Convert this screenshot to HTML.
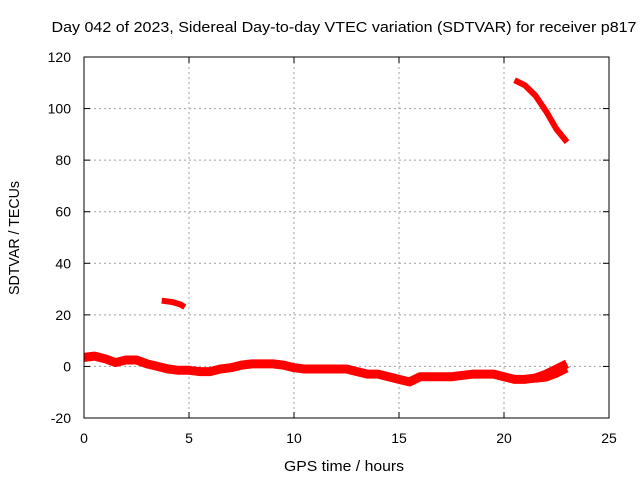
<!DOCTYPE html>
<html><head><meta charset="utf-8"><style>
body{margin:0;background:#fff}
svg{display:block;font-family:"Liberation Sans",sans-serif}
</style></head><body>
<svg id="chart" width="640" height="480">
<rect width="640" height="480" fill="#fff"/>
<text x="344" y="32" font-size="15" textLength="585" lengthAdjust="spacingAndGlyphs" text-anchor="middle">Day 042 of 2023, Sidereal Day-to-day VTEC variation (SDTVAR) for receiver p817</text>
<g id="grid"></g><g id="series"></g><g id="axes"></g>
<text x="344" y="471" font-size="15" textLength="120" lengthAdjust="spacingAndGlyphs" text-anchor="middle">GPS time / hours</text>
<text transform="translate(19,238) rotate(-90)" font-size="15" textLength="114" lengthAdjust="spacingAndGlyphs" text-anchor="middle">SDTVAR / TECUs</text>
</svg>
<script>
const xTicks=[0,5,10,15,20,25];
const yTicks=[-20,0,20,40,60,80,100,120];
const mainTime=[0,0.5,1,1.5,2,2.5,3,3.5,4,4.5,5,5.5,6,6.5,7,7.5,8,8.5,9,9.5,10,10.5,11,11.5,12,12.5,13,13.5,14,14.5,15,15.5,16,16.5,17,17.5,18,18.5,19,19.5,20,20.5,21,21.5,22,22.5,23];
const mainVal=[3.5,4,3,1.5,2.5,2.5,1,0,-1,-1.5,-1.5,-2,-2,-1,-0.5,0.5,1,1,1,0.5,-0.5,-1,-1,-1,-1,-1,-2,-3,-3,-4,-5,-6,-4,-4,-4,-4,-3.5,-3,-3,-3,-4,-5,-5,-4.5,-3,-1,1];
const lowTime=[21.5,22,22.5,23];
const lowVal=[-5,-4.5,-3,-1];
const midTime=[3.7,4.2,4.6,4.8];
const midVal=[25.5,25,24,23];
const highTime=[20.5,21,21.5,22,22.5,23];
const highVal=[111,109,105,99,92,87];
const L=84,R=609,T=57,B=418;
const xs=v=>L+(v-0)/25*(R-L), ys=v=>B-(v+20)/140*(B-T);
const NS="http://www.w3.org/2000/svg";
const grid=document.getElementById('grid'),axes=document.getElementById('axes'),ser=document.getElementById('series');
function mk(tag,at,p){const e=document.createElementNS(NS,tag);for(const k in at)e.setAttribute(k,at[k]);p.appendChild(e);return e;}
xTicks.forEach(t=>{const x=xs(t);
 if(t>0&&t<25){const g=mk('line',{x1:x,x2:x,y1:T,y2:B,stroke:'#a0a0a0','stroke-dasharray':'2,3'},grid);
 
 }
 mk('line',{x1:x,x2:x,y1:B,y2:B-6,stroke:'#000'},axes);
 mk('line',{x1:x,x2:x,y1:T,y2:T+6,stroke:'#000'},axes);
 const tx=mk('text',{x:x,y:B+25,'font-size':14,'text-anchor':'middle'},axes);tx.textContent=t;
 
 });
yTicks.forEach(t=>{const y=ys(t);
 if(t>-20&&t<120){const g=mk('line',{x1:L,x2:R,y1:y,y2:y,stroke:'#a0a0a0','stroke-dasharray':'2,3'},grid);
 
 }
 mk('line',{x1:L,x2:L+6,y1:y,y2:y,stroke:'#000'},axes);
 mk('line',{x1:R,x2:R-6,y1:y,y2:y,stroke:'#000'},axes);
 const tx=mk('text',{x:L-13,y:y+5,'font-size':14,'text-anchor':'end'},axes);tx.textContent=t;
 
 });
const fr=mk('rect',{x:L,y:T,width:R-L,height:B-T,fill:'none',stroke:'#000'},axes);


function line(ts,vs,name,w){const p=ts.map((t,i)=>xs(t)+','+ys(vs[i])).join(' ');
 const e=mk('polyline',{points:p,fill:'none',stroke:'#ff0000','stroke-width':w,'stroke-linejoin':'round'},ser);
 
 }
line(mainTime,mainVal,'sdtvar-main-series',9);
line(lowTime,lowVal,'sdtvar-low-branch',7);
line(midTime,midVal,'sdtvar-segment-25',6);
line(highTime,highVal,'sdtvar-segment-100',6);
</script>
</body></html>
